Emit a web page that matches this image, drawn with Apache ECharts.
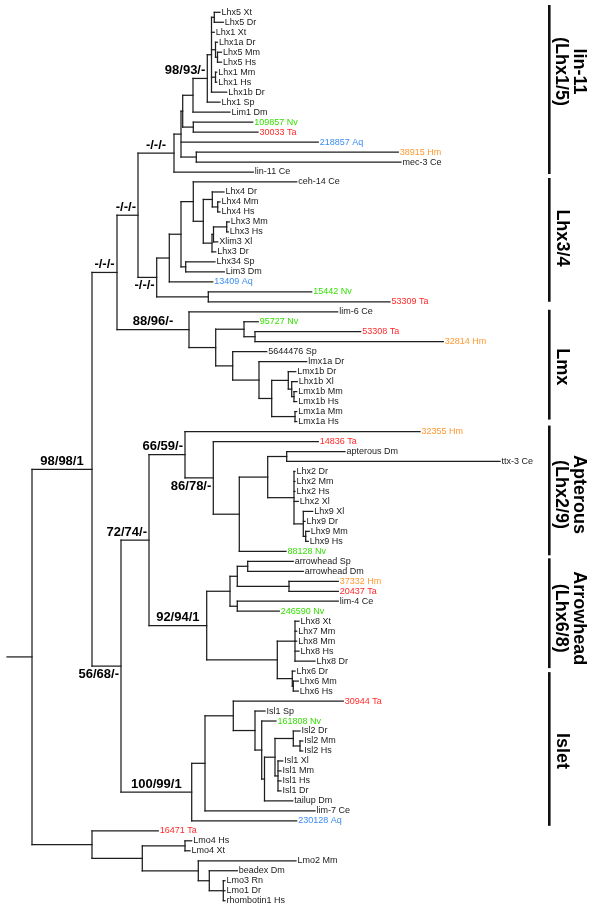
<!DOCTYPE html>
<html><head><meta charset="utf-8">
<script src="https://cdn.jsdelivr.net/npm/echarts@6/dist/echarts.min.js"></script>
<style>html,body{margin:0;padding:0;background:#fff}#c{width:600px;height:914px}</style>
</head><body><div id="c"></div>
<script>
// ---- DATA: tree clades in Newick form (branch lengths) ----
const lin11Clade = "(((((((Lhx5 Xt:5.7,Lhx5 Dr:9):2.8,Lhx1 Xt:2.8,(Lhx1a Dr:2,(Lhx5 Mm:4,Lhx5 Hs:4):2):4,(Lhx1 Mm:1.2,Lhx1 Hs:1.2):4,Lhx1b Dr:15.2):4.2,Lhx1 Sp:12.7)s_lhx15:14.3,Lim1 Dm:37):10.3,(109857 Nv:59.4,30033 Ta:64.7):10.6):1.7,218857 Aq:137.3,(38915 Hm:202,mec-3 Ce:204.7):15.3):7,lin-11 Ce:79.3)s_E";
const lhx34Clade = "((((ceh-14 Ce:103.4,((Lhx4 Dr:11.7,(Lhx4 Mm:2.3,Lhx4 Hs:2.3):5.4):9,(((Lhx3 Mm:2.6,Lhx3 Hs:1.6):13.2,Xlim3 Xl:4.2):1.5,Lhx3 Dr:3.7):8.7):10):12.3,(Lhx34 Sp:29.3,Lim3 Dm:38.6):4.7):11.7,13409 Aq:43.4):12.6,(15442 Nv:103.4,53309 Ta:181.7):51.6)s_F";
const lmxClade = "(lim-6 Ce:148.7,((95727 Nv:14.3,(53308 Ta:105.7,32814 Hm:188.3):11):28.3,(5644476 Sp:34,(lmx1a Dr:47.7,((Lmx1b Dr:7.4,(Lhx1b Xl:5.6,(Lmx1b Mm:2.7,Lmx1b Hs:2.7):2.3):3.4):16.6,(Lmx1a Mm:1.7,Lmx1a Hs:1.7):23.3):12.7):26.3):17):26.7)s_Lmx";
const apterousClade = "(32355 Hm:235,(14836 Ta:105,(((apterous Dm:58.3,ttx-3 Ce:213.3):19,(Lhx2 Dr:1,Lhx2 Mm:1,Lhx2 Hs:1,Lhx2 Xl:4.3,(Lhx9 Xl:9.4,Lhx9 Dr:1.7,(Lhx9 Mm:3.6,Lhx9 Hs:2.6):2.4):9.3):26.3):28.4,88128 Nv:46.7):26)s_Apt2:28.3)s_Apt";
const arrowheadClade = "((((arrowhead Sp:45.6,arrowhead Dm:55.6):10.4,(37332 Hm:49.3,20437 Ta:49.3):51.7):7.3,(lim-4 Ce:101,246590 Nv:42):7.3):23.3,((Lhx8 Xt:4,Lhx7 Mm:1.7,Lhx8 Mm:1.7,Lhx8 Hs:4,Lhx8 Dr:20):17.7,(Lhx6 Dr:2.7,(Lhx6 Mm:5,Lhx6 Hs:5):1):15):70.6)s_Arr";
const isletClade = "(((30944 Ta:110,(Isl1 Sp:10,(161808 Nv:14.3,(((Isl2 Dr:6.7,(Isl2 Mm:2.7,Isl2 Hs:2.7):6.7):18.3,(Isl1 Xl:4.7,Isl1 Mm:3,Isl1 Hs:3,Isl1 Dr:3):3):10.5,tailup Dm:28.2):2.8):6.7):21.7):28.3,lim-7 Ce:110):13.3,230128 Aq:105)s_Isl";
const lmoClade = "(16471 Ta:66.3,((Lmo4 Hs:6.7,Lmo4 Xt:5):42.7,(Lmo2 Mm:97.7,(beadex Dm:28,(Lmo3 Rn:1.7,Lmo1 Dr:1.7,rhombotin1 Hs:1.7):14):11):56):50.3)";
const rootStem = 25;

const supportNodes  = ['s_lhx15','s_E','s_D','s_B','s_F','s_Lmx','s_A','s_Apt','s_Apt2','s_I','s_C','s_Arr','s_Isl'];
const supportValues = ['98/93/-','-/-/-','-/-/-','-/-/-','-/-/-','88/96/-','98/98/1','66/59/-','86/78/-','72/74/-','56/68/-','92/94/1','100/99/1'];

const cladeNames = ['lin-11\n(Lhx1/5)','Lhx3/4','Lmx','Apterous\n(Lhx2/9)','Arrowhead\n(Lhx6/8)','Islet'];
const cladeStart = [-0.73, 16.6, 29.8, 41.4, 54.7, 66.1];
const cladeEnd   = [16.2, 29.0, 40.8, 54.4, 65.7, 81.5];

const speciesCodes  = ['Nv','Ta','Aq','Hm'];
const speciesColors = ['#33e000','#ff2a2a','#3b8cf5','#ff9933'];

// ---- build tree ----
const fullTree = `((((${lin11Clade}:36,${lhx34Clade}:18.7)s_D:21,${lmxClade}:72)s_B:25,((${apterousClade}:36,${arrowheadClade}:57.7)s_I:28,${isletClade}:70.7)s_C:29)s_A:60,${lmoClade}:60)`;

function parseNewick(s){
  let i=0;
  function node(){
    const n={children:[],name:'',len:0};
    if(s[i]==='('){
      i++; n.children.push(node());
      while(s[i]===','){ i++; n.children.push(node()); }
      i++;
    }
    let name='';
    while(i<s.length && !',():;'.includes(s[i])) name+=s[i++];
    n.name=name.trim();
    if(s[i]===':'){ i++; let num=''; while(i<s.length && !',();'.includes(s[i])) num+=s[i++]; n.len=parseFloat(num); }
    return n;
  }
  return node();
}
const root = parseNewick(fullTree);
let leafCount=0; const leaves=[]; const edges=[]; const supports=[];
function layout(n,x,px){
  n.x=x; n.px=px;
  if(!n.children.length){ n.y=leafCount++; leaves.push(n); }
  else { n.children.forEach(c=>layout(c,x+c.len,x)); n.y=(n.children[0].y+n.children[n.children.length-1].y)/2; }
}
layout(root,0,-rootStem);
function collect(n){
  n.children.forEach(c=>{ edges.push([n.x,c.y,c.x,c.y]); collect(c); });
  if(n.children.length) edges.push([n.x,n.children[0].y,n.x,n.children[n.children.length-1].y]);
  const k=supportNodes.indexOf(n.name);
  if(k>=0) supports.push({px:n.px,x:n.x,y:n.y,text:supportValues[k],id:n.name});
}
edges.push([-rootStem,root.y,0,root.y]);
collect(root);

const FONT='"Liberation Sans", Arial, Helvetica, sans-serif';
const measure=document.createElement('canvas').getContext('2d');
const belowIds=new Set(['s_F','s_Apt2','s_C']);
const cladeShift=[-18,-2,2,4,5,2];

function leafColor(name){
  const sp=name.split(' ').pop(); const k=speciesCodes.indexOf(sp);
  return k>=0?speciesColors[k]:'#1a1a1a';
}

const chart=echarts.init(document.getElementById('c'),null,{renderer:'canvas'});
chart.setOption({
  animation:false,
  grid:{left:0,right:0,top:12.3,bottom:13.3},
  xAxis:{type:'value',min:-32,max:568,show:false},
  yAxis:{type:'value',min:0,max:89,inverse:true,show:false},
  series:[
    {type:'custom',name:'branches',data:edges,silent:true,
     renderItem:(p,api)=>{
       const a=api.coord([api.value(0),api.value(1)]), b=api.coord([api.value(2),api.value(3)]);
       return {type:'line',shape:{x1:a[0],y1:a[1],x2:b[0],y2:b[1]},style:{stroke:'#1e1e1e',lineWidth:1.25,lineCap:'square'}};
     }},
    {type:'custom',name:'tips',data:leaves.map(l=>[l.x,l.y]),silent:true,
     renderItem:(p,api)=>{
       const a=api.coord([api.value(0),api.value(1)]);
       const nm=leaves[p.dataIndex].name;
       return {type:'text',x:a[0]+1.5,y:a[1],style:{text:nm,fill:leafColor(nm),font:'9px '+FONT,textAlign:'left',textVerticalAlign:'middle'}};
     }},
    {type:'custom',name:'support',data:supports.map(s=>[s.px,s.x,s.y]),silent:true,
     renderItem:(p,api)=>{
       const s=supports[p.dataIndex];
       const a=api.coord([api.value(0),api.value(2)]), b=api.coord([api.value(1),api.value(2)]);
       const font='bold 13px '+FONT; measure.font=font;
       const w=measure.measureText(s.text).width;
       let tx, al;
       if(w+4<=b[0]-a[0]){ tx=(a[0]+b[0])/2; al='center'; } else { tx=b[0]-2; al='right'; }
       const below=belowIds.has(s.id);
       return {type:'text',x:tx,y:below?a[1]+2:a[1]-1.5,style:{text:s.text,fill:'#000',font:font,textAlign:al,textVerticalAlign:below?'top':'bottom'}};
     }},
    {type:'custom',name:'clades',data:cladeNames.map((n,i)=>[cladeStart[i],cladeEnd[i]]),silent:true,
     renderItem:(p,api)=>{
       const i=p.dataIndex;
       const y0=api.coord([0,api.value(0)])[1], y1=api.coord([0,api.value(1)])[1];
       const lines=cladeNames[i].split('\n');
       const cy=(y0+y1)/2+cladeShift[i];
       const xs=lines.length>1?[578.5,561]:[561.5];
       const children=[{type:'line',shape:{x1:549.3,y1:y0,x2:549.3,y2:y1},style:{stroke:'#111',lineWidth:2.6}}];
       lines.forEach((t,k)=>children.push({type:'text',x:xs[k],y:cy,rotation:-Math.PI/2,
          style:{text:t,fill:'#000',font:'bold 18px '+FONT,textAlign:'center',textVerticalAlign:'middle'}}));
       return {type:'group',children};
     }}
  ]
});
</script></body></html>
